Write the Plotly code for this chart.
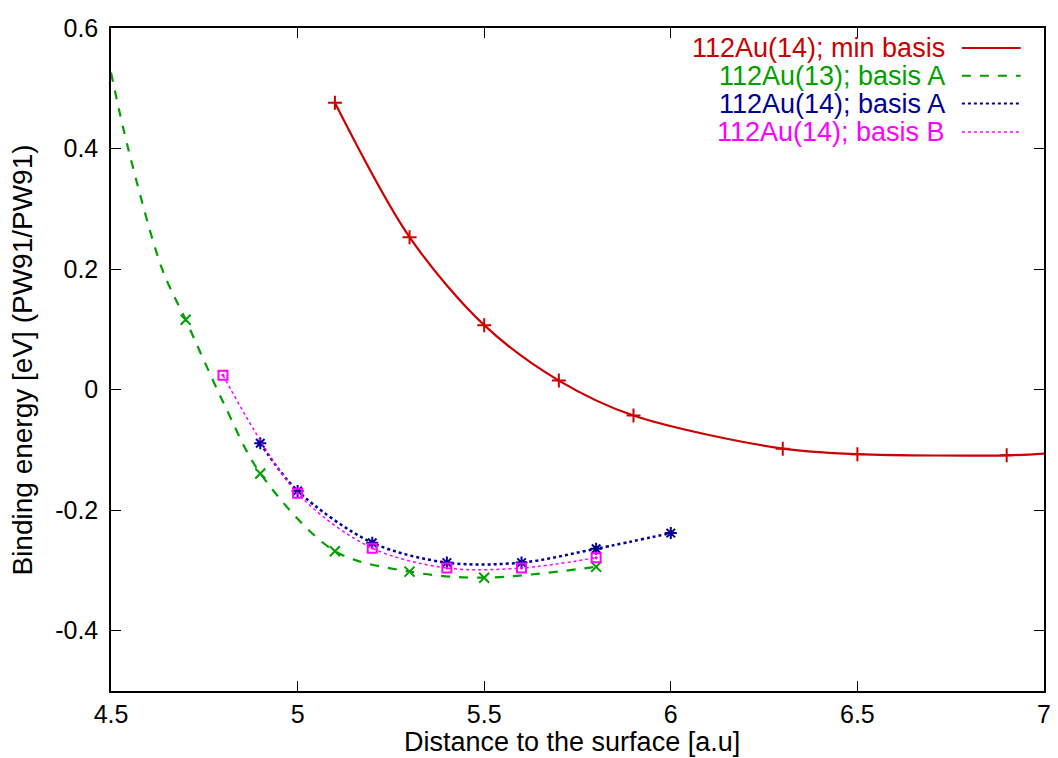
import plotly.graph_objects as go

# Dados
x_min_basis = [5.1, 5.3, 5.5, 5.7, 5.9, 6.3, 6.5, 6.9]
y_min_basis = [0.476, 0.253, 0.107, 0.015, -0.043, -0.098, -0.107, -0.109]
# curva ajustada (estendida até 7.0)
xc_min_basis = x_min_basis + [7.0]
yc_min_basis = y_min_basis + [-0.106]

x_13_A = [4.7, 4.9, 5.1, 5.3, 5.5, 5.8]
y_13_A = [0.116, -0.139, -0.268, -0.302, -0.312, -0.294]
# curva ajustada (começa em 4.5)
xc_13_A = [4.5, 4.546, 4.637, 4.7, 4.8, 4.9, 5.1, 5.3, 5.5, 5.8]
yc_13_A = [0.526, 0.4, 0.2, 0.116, -0.02, -0.139, -0.268, -0.302, -0.312, -0.294]

x_14_A = [4.9, 5.0, 5.2, 5.4, 5.6, 5.8, 6.0]
y_14_A = [-0.089, -0.168, -0.254, -0.287, -0.287, -0.264, -0.238]

x_14_B = [4.8, 5.0, 5.2, 5.4, 5.6, 5.8]
y_14_B = [0.024, -0.172, -0.263, -0.296, -0.296, -0.279]

nomes = ["112Au(14); min basis", "112Au(13); basis A", "112Au(14); basis A", "112Au(14); basis B"]
cores = ["#cc0000", "#00a000", "#000099", "#ff00ff"]
tracos = ["solid", "dash", "dot", "dot"]
simbolos = ["cross-thin-open", "x-thin-open", "asterisk-open", "square-open-dot"]

series = [
    (xc_min_basis, yc_min_basis, x_min_basis, y_min_basis),
    (xc_13_A, yc_13_A, x_13_A, y_13_A),
    (x_14_A, y_14_A, x_14_A, y_14_A),
    (x_14_B, y_14_B, x_14_B, y_14_B),
]

fonte = "Liberation Sans, Arial, sans-serif"

fig = go.Figure()
for i, (xc, yc, xp, yp) in enumerate(series):
    largura = 2.2 if i < 2 else (2.5 if i == 2 else 1.5)
    fig.add_trace(go.Scatter(
        x=xc, y=yc, mode="lines",
        line=dict(color=cores[i], width=largura, dash=tracos[i], shape="spline", smoothing=0.9),
        showlegend=False, hoverinfo="skip"))
    fig.add_trace(go.Scatter(
        x=xp, y=yp, mode="markers", name=nomes[i],
        marker=dict(symbol=simbolos[i], size=10 if i < 3 else 9, color=cores[i],
                    line=dict(color=cores[i], width=2)),
        showlegend=False))

# Legenda no estilo gnuplot (texto alinhado à direita, amostra da linha à direita)
legenda_y = [0.970, 0.928, 0.886, 0.843]
for i, nome in enumerate(nomes):
    fig.add_annotation(x=0.896, y=legenda_y[i], xref="paper", yref="paper",
                       text=nome, showarrow=False, xanchor="right", yanchor="middle",
                       font=dict(family=fonte, size=27, color=cores[i]))
    fig.add_shape(type="line", xref="paper", yref="paper",
                  x0=0.912, x1=0.975, y0=legenda_y[i], y1=legenda_y[i],
                  line=dict(color=cores[i], width=2 if i < 3 else 1.5, dash=tracos[i]))

# Títulos dos eixos como anotações (posição controlada)
fig.add_annotation(x=0.494, y=-0.077, xref="paper", yref="paper",
                   text="Distance to the surface [a.u]", showarrow=False,
                   xanchor="center", yanchor="middle",
                   font=dict(family=fonte, size=27, color="black"))
fig.add_annotation(x=-0.095, y=0.499, xref="paper", yref="paper",
                   text="Binding energy [eV] (PW91/PW91)", showarrow=False, textangle=-90,
                   xanchor="center", yanchor="middle",
                   font=dict(family=fonte, size=28, color="black"))

eixo = dict(showgrid=False, zeroline=False, showline=True, linecolor="black", linewidth=1.5,
            mirror="ticks", ticks="inside", ticklen=10, tickcolor="black", tickwidth=1,
            automargin=False,
            tickfont=dict(family=fonte, size=25, color="black"))

fig.update_xaxes(range=[4.5, 7], tickvals=[4.5, 5, 5.5, 6, 6.5, 7],
                 ticktext=["4.5", "5", "5.5", "6", "6.5", "7"], **eixo)
fig.update_yaxes(range=[-0.5, 0.6], tickvals=[-0.4, -0.2, 0, 0.2, 0.4, 0.6],
                 ticktext=["-0.4", "-0.2", "0", "0.2", "0.4", "0.6"], ticklabelstandoff=6,
                 **eixo)

# a página tem margem de 8 px no body; margens compensadas
fig.update_layout(width=1058, height=758, template="plotly_white",
                  plot_bgcolor="white", paper_bgcolor="white",
                  margin=dict(l=103, r=22, t=20, b=75, autoexpand=False))

fig.write_html("out.html")
